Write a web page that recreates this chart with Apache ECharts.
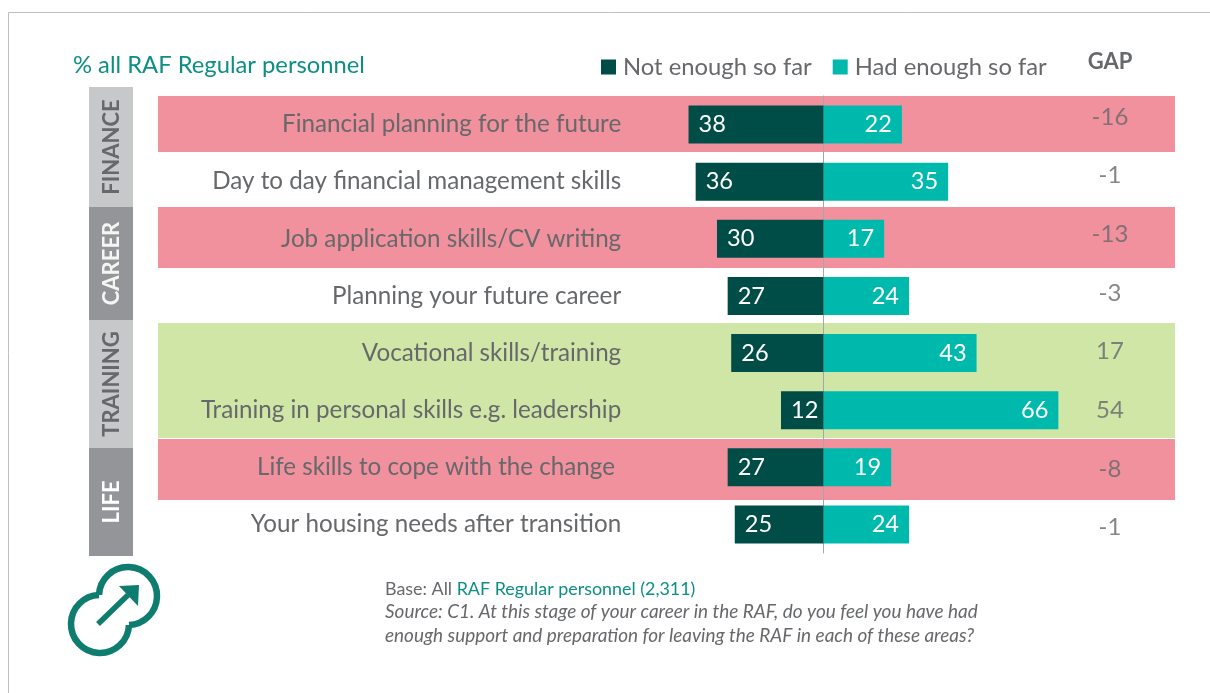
<!DOCTYPE html>
<html><head><meta charset="utf-8">
<style>html,body{margin:0;padding:0;background:#fff}#c{width:1210px;height:693px}</style>
<script src="https://cdn.jsdelivr.net/npm/echarts@6/dist/echarts.min.js"></script>
</head><body><div id="c"></div>
<script>
const categories = ["Financial planning for the future","Day to day financial management skills","Job application skills/CV writing","Planning your future career","Vocational skills/training","Training in personal skills e.g. leadership","Life skills to cope with the change ","Your housing needs after transition"];
const notEnough = [38,36,30,27,26,12,27,25];
const hadEnough = [22,35,17,24,43,66,19,24];
const gaps = [-16,-1,-13,-3,17,54,-8,-1];
const themes = ["FINANCE","CAREER","TRAINING","LIFE"];

const FONT = 'Lato';
const GREY = '#66686b', TEAL = '#0d8f85', ICON = '#0e7c6e';
const PINK = '#f0919d', GREEN = '#cfe6a6';

const bands = [[96,152,PINK],[207,268,PINK],[323,438,GREEN],[439,500,PINK]];
const blocks = [[87,120,'#c7c8ca',GREY],[207,113,'#939598','#f5f5f5'],[320,128,'#c7c8ca',GREY],[448,108,'#939598','#fff']];

const gfx = [
  {type:'polyline',shape:{points:[[8.5,693],[8.5,12.5],[1210,12.5]]},style:{stroke:'#bfbfbf',lineWidth:1,fill:null},silent:true},
  ...bands.map(b=>({type:'rect',shape:{x:158,y:b[0],width:1017,height:b[1]-b[0]},style:{fill:b[2]},silent:true})),
  ...blocks.map(b=>({type:'rect',shape:{x:89,y:b[0],width:44,height:b[1]},style:{fill:b[2]},silent:true})),
  ...blocks.map((b,i)=>({type:'text',x:112,y:b[0]+b[1]/2,rotation:Math.PI/2,
     style:{text:themes[i],fill:b[3],font:'bold 22px '+FONT,align:'center',verticalAlign:'middle'},silent:true})),
  {type:'text',x:73,y:65,style:{text:'% all RAF Regular personnel',fill:TEAL,font:'23.75px '+FONT,verticalAlign:'middle'}},
  {type:'text',x:1110,y:62,style:{text:'GAP',fill:GREY,font:'bold 22px '+FONT,align:'center',verticalAlign:'middle'}},
  {type:'text',x:385,y:589,style:{rich:{a:{fill:GREY,font:'17.9px '+FONT},b:{fill:TEAL,font:'17.9px '+FONT}},text:'{a|Base: All }{b|RAF Regular personnel (2,311)}',verticalAlign:'middle'}},
  {type:'text',x:385,y:612,style:{text:'Source: C1. At this stage of your career in the RAF, do you feel you have had',fill:GREY,font:'italic 18.95px '+FONT,verticalAlign:'middle'}},
  {type:'text',x:385,y:636,style:{text:'enough support and preparation for leaving the RAF in each of these areas?',fill:GREY,font:'italic 18.95px '+FONT,verticalAlign:'middle'}},
  {type:'arc',shape:{cx:128,cy:596,r:29,startAngle:Math.atan2(-1,-29),endAngle:Math.atan2(29,1),clockwise:true},style:{fill:'none',stroke:ICON,lineWidth:6.5}},
  {type:'arc',shape:{cx:100,cy:624,r:29,startAngle:Math.atan2(1,29),endAngle:Math.atan2(-29,-1),clockwise:true},style:{fill:'none',stroke:ICON,lineWidth:6.5}},
  {type:'line',shape:{x1:98,y1:624,x2:128,y2:595},style:{stroke:ICON,lineWidth:5.5}},
  {type:'polygon',shape:{points:[[139,585],[119,586],[138,606]]},style:{fill:ICON}}
];
const chart = echarts.init(document.getElementById('c'),null,{renderer:'canvas'});
chart.setOption({
  animation:false,
  textStyle:{fontFamily:FONT},
  graphic:{elements:gfx},
  legend:{left:596,top:50,itemWidth:15,itemHeight:15,itemGap:21,icon:'rect',
    data:['Not enough so far','Had enough so far'],
    textStyle:{color:GREY,fontSize:23.8,fontFamily:FONT,padding:[0,0,0,2]}},
  grid:[
    {left:158.7,right:34.3,top:96,height:457},
    {left:1060,width:100,top:87.5,height:469.5}
  ],
  xAxis:[
    {type:'value',min:-187,max:99,show:false,gridIndex:0},
    {type:'value',min:-1,max:1,show:false,gridIndex:1}
  ],
  yAxis:[
    {type:'category',inverse:true,data:categories,gridIndex:0,
      axisLine:{show:true,onZero:true,lineStyle:{color:'#a6a6a6',width:1}},axisTick:{show:false},splitLine:{show:false},
      axisLabel:{inside:true,margin:462.5,align:'right',color:GREY,fontSize:24.2,fontFamily:FONT,padding:[2,0,0,0]}},
    {type:'category',inverse:true,data:categories,gridIndex:1,show:false}
  ],
  series:[
    {name:'Not enough so far',type:'bar',stack:'s',barWidth:38,z:3,
      data:notEnough.map(v=>-v),itemStyle:{color:'#004c46'},
      label:{show:true,position:'insideLeft',distance:10,color:'#fff',fontSize:23.6,fontFamily:FONT,padding:[2,0,0,0],formatter:p=>Math.abs(p.value)}},
    {name:'Had enough so far',type:'bar',stack:'s',barWidth:38,z:3,
      data:hadEnough,itemStyle:{color:'#00b9ad'},
      label:{show:true,position:'insideRight',distance:10,color:'#fff',fontSize:23.6,fontFamily:FONT,padding:[2,0,0,0]}},
    {name:'GAP',type:'scatter',xAxisIndex:1,yAxisIndex:1,symbolSize:0,silent:true,z:4,
      data:gaps.map((v,i)=>({value:[0,i],gap:v})),
      label:{show:true,position:'inside',color:GREY,fontSize:24,fontFamily:FONT,formatter:p=>String(p.data.gap)}}
  ]
});
</script></body></html>
